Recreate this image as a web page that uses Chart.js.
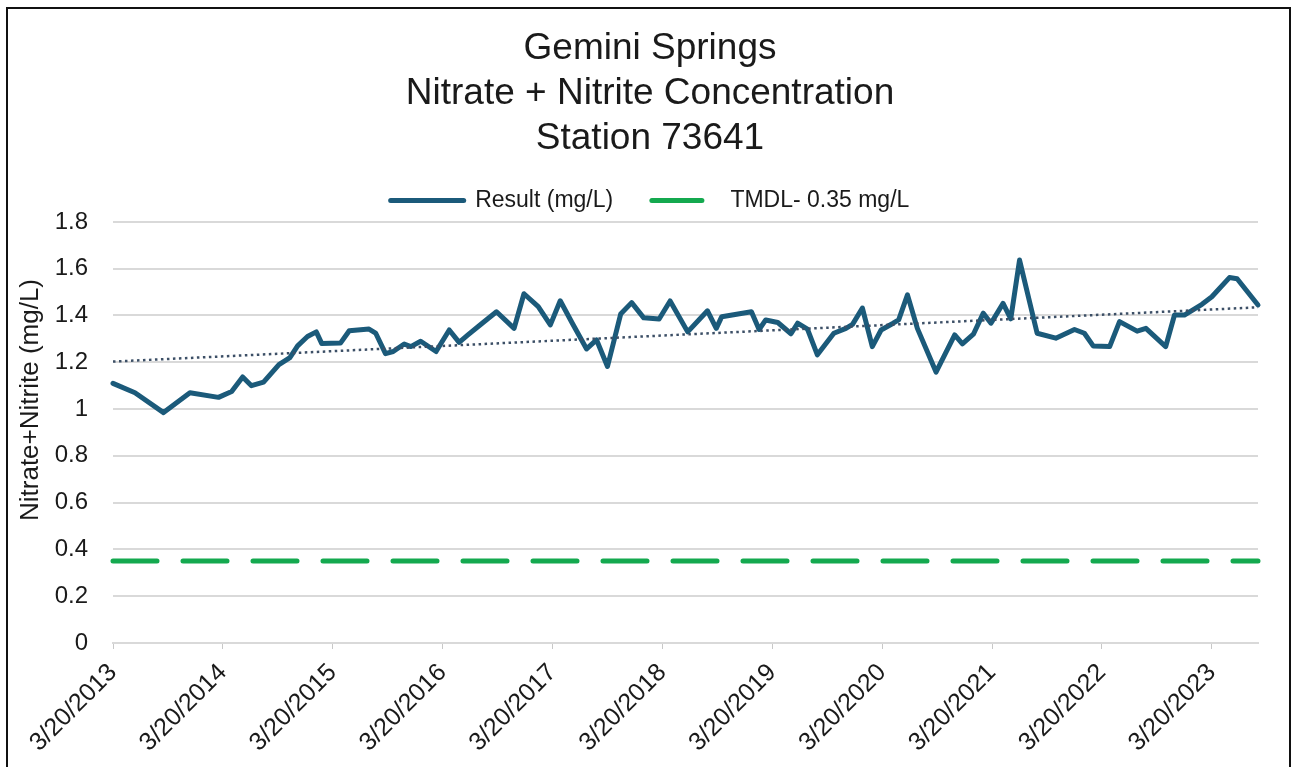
<!DOCTYPE html>
<html>
<head>
<meta charset="utf-8">
<script src="https://cdn.jsdelivr.net/npm/chart.js@4.4.1/dist/chart.umd.min.js"></script>
<style>
  html, body { margin: 0; padding: 0; background: #fff; overflow: hidden; }
  #wrap { position: relative; width: 1294px; height: 767px; }
  #frame { position: absolute; left: 6px; top: 7px; width: 1281px; height: 800px; border: 2.5px solid #111; pointer-events: none; }
</style>
</head>
<body>
<div id="wrap">
  <canvas id="chart" width="1294" height="767"></canvas>
  <div id="frame"></div>
</div>
<script>
// --- data ---
const chartTitle = ['Gemini Springs', 'Nitrate + Nitrite Concentration', 'Station 73641'];
const yAxisTitle = 'Nitrate+Nitrite (mg/L)';
const resultLabel = 'Result (mg/L)';
const tmdlLabel = 'TMDL- 0.35 mg/L';

// sample dates as decimal years
const sampleYears = [
  2013.22, 2013.42, 2013.68, 2013.92, 2014.18, 2014.30, 2014.40, 2014.48, 2014.59, 2014.73,
  2014.83, 2014.90, 2014.99, 2015.07, 2015.12, 2015.29, 2015.37, 2015.55, 2015.61, 2015.70,
  2015.77, 2015.87, 2015.93, 2016.02, 2016.16, 2016.28, 2016.37, 2016.45, 2016.58, 2016.71,
  2016.87, 2016.96, 2017.09, 2017.20, 2017.29, 2017.40, 2017.53, 2017.62, 2017.72, 2017.84,
  2017.94, 2018.05, 2018.19, 2018.29, 2018.45, 2018.63, 2018.71, 2018.76, 2019.03, 2019.10,
  2019.16, 2019.27, 2019.39, 2019.45, 2019.54, 2019.63, 2019.78, 2019.89, 2019.95, 2020.04,
  2020.13, 2020.21, 2020.32, 2020.37, 2020.45, 2020.54, 2020.71, 2020.88, 2020.95, 2021.05,
  2021.14, 2021.21, 2021.32, 2021.39, 2021.47, 2021.63, 2021.80, 2021.97, 2022.06, 2022.14,
  2022.29, 2022.38, 2022.54, 2022.62, 2022.80, 2022.88, 2022.97, 2023.13, 2023.22, 2023.38,
  2023.45, 2023.64
];
const resultValues = [
  1.11, 1.07, 0.985, 1.07, 1.05, 1.075, 1.137, 1.10, 1.115, 1.19,
  1.22, 1.27, 1.31, 1.33, 1.28, 1.282, 1.335, 1.342, 1.325, 1.237,
  1.246, 1.278, 1.267, 1.29, 1.246, 1.338, 1.285, 1.317, 1.367, 1.416,
  1.345, 1.493, 1.438, 1.36, 1.463, 1.367, 1.257, 1.296, 1.182, 1.406,
  1.455, 1.39, 1.385, 1.462, 1.33, 1.42, 1.345, 1.395, 1.416, 1.34,
  1.381, 1.37, 1.322, 1.367, 1.342, 1.232, 1.324, 1.345, 1.362, 1.432,
  1.267, 1.338, 1.367, 1.381, 1.488, 1.345, 1.158, 1.317, 1.279, 1.32,
  1.41, 1.367, 1.452, 1.386, 1.637, 1.324, 1.303, 1.34, 1.324, 1.27,
  1.267, 1.374, 1.333, 1.345, 1.267, 1.402, 1.402, 1.448, 1.48, 1.562,
  1.557, 1.445
];
const tmdlValue = 0.35;
// linear trendline end points
const trendYears = [2013.22, 2023.64];
const trendValues = [1.203, 1.435];

const xTickLabels = ['3/20/2013', '3/20/2014', '3/20/2015', '3/20/2016', '3/20/2017', '3/20/2018',
  '3/20/2019', '3/20/2020', '3/20/2021', '3/20/2022', '3/20/2023'];
const xTickYears = [2013.22, 2014.22, 2015.22, 2016.22, 2017.22, 2018.22, 2019.22, 2020.22, 2021.22, 2022.22, 2023.22];
const yTicks = [0, 0.2, 0.4, 0.6, 0.8, 1, 1.2, 1.4, 1.6, 1.8];

// --- styles ---
const FONT = '"Liberation Sans", Arial, sans-serif';
const TEXT = '#1a1a1a';
const RESULT_COLOR = '#1b5a7a';
const TMDL_COLOR = '#14a94f';
const TREND_COLOR = '#3c4f66';
const GRID = '#d9d9d9';

const xMin = sampleYears[0];
const xMax = sampleYears[sampleYears.length - 1];

// rotated y axis title, placed like the original
const yTitlePlugin = {
    id: 'yTitle',
    afterDraw(chart) {
        const ctx = chart.ctx;
        ctx.save();
        ctx.translate(31, 400);
        ctx.rotate(-Math.PI / 2);
        ctx.font = '26px ' + FONT;
        ctx.fillStyle = TEXT;
        ctx.textAlign = 'center';
        ctx.textBaseline = 'middle';
        ctx.fillText(yAxisTitle, 0, 0);
        ctx.restore();
    }
};

new Chart(document.getElementById('chart'), {
    type: 'line',
    data: {
        datasets: [
            {
                label: 'Linear trend',
                data: trendYears.map((x, i) => ({ x, y: trendValues[i] })),
                borderColor: TREND_COLOR,
                borderWidth: 2.5,
                borderDash: [2.5, 3.5],
                pointRadius: 0,
                order: 0
            },
            {
                label: resultLabel,
                data: sampleYears.map((x, i) => ({ x, y: resultValues[i] })),
                borderColor: RESULT_COLOR,
                borderWidth: 5,
                borderJoinStyle: 'round',
                borderCapStyle: 'round',
                pointRadius: 0,
                clip: false,
                order: 1
            },
            {
                label: tmdlLabel,
                data: [{ x: xMin, y: tmdlValue }, { x: xMax, y: tmdlValue }],
                borderColor: TMDL_COLOR,
                borderWidth: 5,
                borderDash: [44, 26],
                borderCapStyle: 'round',
                pointRadius: 0,
                clip: false,
                order: 2
            }
        ]
    },
    options: {
        responsive: false,
        animation: false,
        devicePixelRatio: 1,
        events: [],
        layout: { padding: { top: 0, left: 42, right: 36, bottom: 0 } },
        plugins: {
            title: {
                display: true,
                text: chartTitle,
                color: TEXT,
                font: { family: FONT, size: 37, weight: 'normal', lineHeight: 1.22 },
                padding: { top: 26, bottom: 14 }
            },
            legend: {
                display: true,
                labels: {
                    font: { family: FONT, size: 23 },
                    color: TEXT,
                    padding: 13.5,
                    usePointStyle: true,
                    pointStyleWidth: 73,
                    generateLabels: () => [
                        { text: resultLabel + '   ', strokeStyle: RESULT_COLOR, fillStyle: RESULT_COLOR, lineWidth: 5,
                          lineCap: 'round', pointStyle: 'line', hidden: false, datasetIndex: 1, fontColor: TEXT },
                        { text: tmdlLabel, strokeStyle: TMDL_COLOR, fillStyle: TMDL_COLOR, lineWidth: 5,
                          lineDash: [50, 40], lineDashOffset: -6, lineCap: 'round', pointStyle: 'line',
                          hidden: false, datasetIndex: 2, fontColor: TEXT }
                    ]
                }
            },
            tooltip: { enabled: false }
        },
        scales: {
            x: {
                type: 'linear',
                min: xMin,
                max: xMax,
                bounds: 'data',
                afterBuildTicks: s => { s.ticks = xTickYears.map(v => ({ value: v })); },
                afterFit: s => { s.height = 124; },
                ticks: {
                    autoSkip: false,
                    minRotation: 45,
                    maxRotation: 45,
                    padding: 9,
                    color: TEXT,
                    font: { family: FONT, size: 25 },
                    callback: (v, i) => xTickLabels[i]
                },
                grid: { drawOnChartArea: false, drawTicks: true, tickLength: 6, color: '#c8c8c8' },
                border: { display: true, color: GRID, width: 2 }
            },
            y: {
                min: yTicks[0],
                max: yTicks[yTicks.length - 1],
                afterBuildTicks: s => { s.ticks = yTicks.map(v => ({ value: v })); },
                afterFit: s => { s.width = 71; },
                ticks: {
                    padding: 25,
                    color: TEXT,
                    font: { family: FONT, size: 24 },
                    callback: v => String(v)
                },
                grid: { color: GRID, lineWidth: 2, drawTicks: false },
                border: { display: false }
            }
        }
    },
    plugins: [yTitlePlugin]
});
</script>
</body>
</html>
